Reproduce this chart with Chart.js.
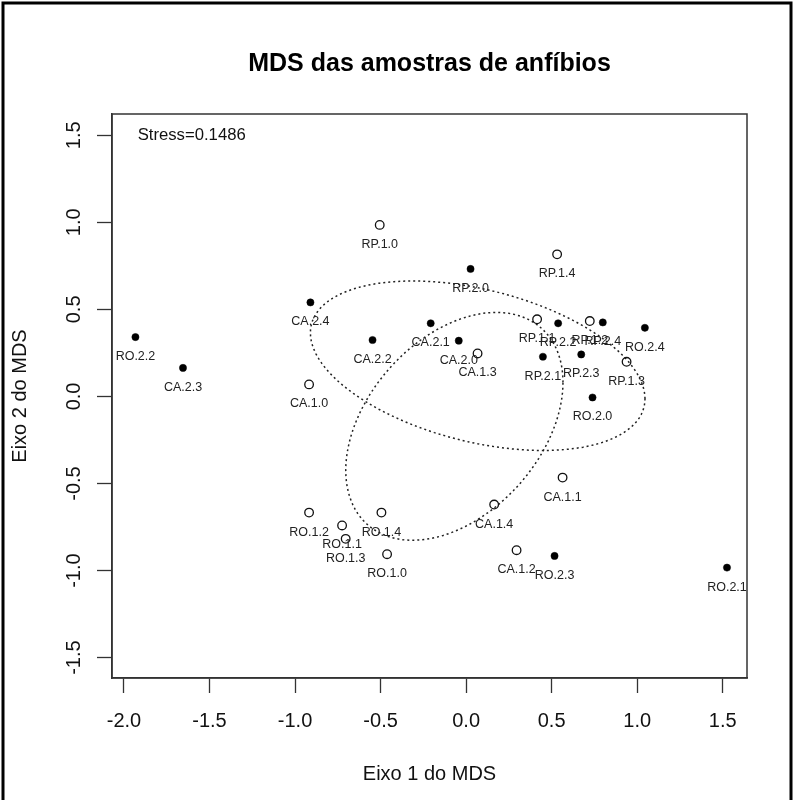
<!DOCTYPE html>
<html>
<head>
<meta charset="utf-8">
<script src="https://cdn.jsdelivr.net/npm/chart.js@4.4.1/dist/chart.umd.min.js"></script>
<style>
  html, body { margin: 0; padding: 0; background: #fff; }
  canvas { display: block; }
</style>
</head>
<body>
<canvas id="mds-chart" width="795" height="800"></canvas>
<script>
// MDS das amostras de anfibios
const sampleNames = [
  'CA.1.0', 'CA.1.1', 'CA.1.2', 'CA.1.3', 'CA.1.4',
  'CA.2.0', 'CA.2.1', 'CA.2.2', 'CA.2.3', 'CA.2.4',
  'RO.1.0', 'RO.1.1', 'RO.1.2', 'RO.1.3', 'RO.1.4',
  'RO.2.0', 'RO.2.1', 'RO.2.2', 'RO.2.3', 'RO.2.4',
  'RP.1.0', 'RP.1.1', 'RP.1.2', 'RP.1.3', 'RP.1.4',
  'RP.2.0', 'RP.2.1', 'RP.2.2', 'RP.2.3', 'RP.2.4'
];
const axis1 = [
  -0.918, 0.564, 0.295, 0.067, 0.164,
  -0.043, -0.207, -0.547, -1.655, -0.910,
  -0.462, -0.725, -0.918, -0.704, -0.495,
  0.739, 1.525, -1.933, 0.517, 1.045,
  -0.505, 0.415, 0.723, 0.938, 0.532,
  0.026, 0.449, 0.538, 0.673, 0.799
];
const axis2 = [
  0.069, -0.466, -0.883, 0.247, -0.621,
  0.320, 0.420, 0.324, 0.164, 0.540,
  -0.906, -0.741, -0.667, -0.818, -0.667,
  -0.006, -0.983, 0.341, -0.916, 0.394,
  0.985, 0.443, 0.433, 0.199, 0.816,
  0.732, 0.228, 0.420, 0.241, 0.425
];
const xTicks = [-2.0, -1.5, -1.0, -0.5, 0.0, 0.5, 1.0, 1.5];
const yTicks = [-1.5, -1.0, -0.5, 0.0, 0.5, 1.0, 1.5];
const xLimits = [-2.07, 1.642];
const yLimits = [-1.617, 1.622];
const stressText = 'Stress=0.1486';
const stressPos = [-1.92, 1.5];

const FONT = '"Liberation Sans", Arial, Helvetica, sans-serif';
const INK = '#111';

// split samples by period (".1." open, ".2." filled)
function groupPoints(period) {
  const pts = [];
  sampleNames.forEach((name, i) => {
    if (name.split('.')[1] === period) pts.push({ x: axis1[i], y: axis2[i], name });
  });
  return pts;
}

// standard deviation ellipse of a group (like ordiellipse kind = "sd")
function sdEllipse(pts, steps) {
  const n = pts.length;
  const mx = pts.reduce((s, p) => s + p.x, 0) / n;
  const my = pts.reduce((s, p) => s + p.y, 0) / n;
  let sxx = 0, syy = 0, sxy = 0;
  pts.forEach(p => {
    sxx += (p.x - mx) ** 2;
    syy += (p.y - my) ** 2;
    sxy += (p.x - mx) * (p.y - my);
  });
  sxx /= n - 1; syy /= n - 1; sxy /= n - 1;
  const l11 = Math.sqrt(sxx);
  const l21 = sxy / l11;
  const l22 = Math.sqrt(syy - l21 * l21);
  const out = [];
  for (let k = 0; k <= steps; k++) {
    const t = (2 * Math.PI * k) / steps;
    out.push({ x: mx + l11 * Math.cos(t), y: my + l21 * Math.cos(t) + l22 * Math.sin(t) });
  }
  return out;
}

const openPts = groupPoints('1');
const filledPts = groupPoints('2');

const frameAndLabels = {
  id: 'frameAndLabels',
  afterDatasetsDraw(chart) {
    const { ctx, chartArea, scales } = chart;
    ctx.save();
    // box around the plot
    ctx.strokeStyle = '#333';
    ctx.lineWidth = 1.5;
    ctx.strokeRect(chartArea.left, chartArea.top, chartArea.right - chartArea.left, chartArea.bottom - chartArea.top);
    // outer picture frame
    ctx.strokeStyle = '#000';
    ctx.lineWidth = 3;
    ctx.strokeRect(3, 3, 788, 820);
    // sample names under each point
    ctx.fillStyle = '#222';
    ctx.font = '12.5px ' + FONT;
    ctx.textAlign = 'center';
    ctx.textBaseline = 'alphabetic';
    sampleNames.forEach((name, i) => {
      const px = scales.x.getPixelForValue(axis1[i]);
      const py = scales.y.getPixelForValue(axis2[i]);
      ctx.fillText(name, px, py + 23);
    });
    // stress value
    ctx.font = '16.7px ' + FONT;
    ctx.textAlign = 'left';
    ctx.textBaseline = 'middle';
    ctx.fillStyle = INK;
    ctx.fillText(stressText, scales.x.getPixelForValue(stressPos[0]), scales.y.getPixelForValue(stressPos[1]));
    ctx.restore();
  }
};

Chart.defaults.font.family = FONT;
Chart.defaults.color = INK;

new Chart(document.getElementById('mds-chart'), {
  type: 'scatter',
  data: {
    datasets: [
      {
        label: 'periodo 1',
        data: openPts,
        pointStyle: 'circle',
        pointRadius: 4.3,
        pointBorderWidth: 1.3,
        pointBorderColor: '#111',
        pointBackgroundColor: 'rgba(255,255,255,0)',
        showLine: false
      },
      {
        label: 'periodo 2',
        data: filledPts,
        pointStyle: 'circle',
        pointRadius: 3.6,
        pointBorderWidth: 0.5,
        pointBorderColor: '#000',
        pointBackgroundColor: '#000',
        showLine: false
      },
      {
        label: 'elipse 1',
        data: sdEllipse(openPts, 120),
        showLine: true,
        pointRadius: 0,
        borderColor: '#222',
        borderWidth: 1.5,
        borderDash: [2, 3],
        fill: false
      },
      {
        label: 'elipse 2',
        data: sdEllipse(filledPts, 120),
        showLine: true,
        pointRadius: 0,
        borderColor: '#222',
        borderWidth: 1.5,
        borderDash: [2, 3],
        fill: false
      }
    ]
  },
  options: {
    responsive: false,
    animation: false,
    devicePixelRatio: 1,
    layout: { padding: { top: 0, right: 48, bottom: 0, left: 0 } },
    plugins: {
      legend: { display: false },
      tooltip: { enabled: false },
      title: {
        display: true,
        fullSize: false,
        text: 'MDS das amostras de anfíbios',
        color: '#000',
        font: { size: 25, weight: 'bold', family: FONT },
        padding: { top: 49, bottom: 35 }
      }
    },
    scales: {
      x: {
        type: 'linear',
        min: xLimits[0],
        max: xLimits[1],
        afterBuildTicks: (scale) => { scale.ticks = xTicks.map(v => ({ value: v })); },
        afterFit: (scale) => { scale.height = 122; },
        grid: { drawOnChartArea: false, tickLength: 15, tickColor: '#333', tickWidth: 1.3 },
        border: { display: true, color: '#333', width: 1.5 },
        ticks: {
          autoSkip: false,
          maxRotation: 0,
          padding: 16,
          color: '#111',
          font: { size: 20 },
          callback: (v) => Number(v).toFixed(1)
        },
        title: {
          display: true,
          text: 'Eixo 1 do MDS',
          color: '#111',
          font: { size: 20 },
          padding: { top: 0, bottom: 14 }
        }
      },
      y: {
        type: 'linear',
        min: yLimits[0],
        max: yLimits[1],
        afterBuildTicks: (scale) => { scale.ticks = yTicks.map(v => ({ value: v })); },
        afterFit: (scale) => { scale.width = 112; },
        grid: { drawOnChartArea: false, tickLength: 15, tickColor: '#333', tickWidth: 1.3 },
        border: { display: true, color: '#333', width: 1.5 },
        ticks: {
          autoSkip: false,
          minRotation: 90,
          maxRotation: 90,
          crossAlign: 'center',
          padding: 5,
          color: '#111',
          font: { size: 20 },
          callback: (v) => Number(v).toFixed(1)
        },
        title: {
          display: true,
          text: 'Eixo 2 do MDS',
          color: '#111',
          font: { size: 20 },
          padding: { top: 8, bottom: 0 }
        }
      }
    }
  },
  plugins: [frameAndLabels]
});
</script>
</body>
</html>
